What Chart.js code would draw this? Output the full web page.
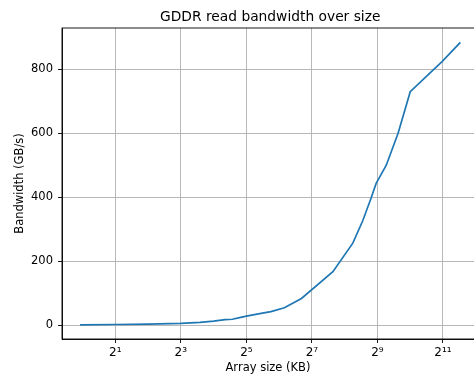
<!DOCTYPE html>
<html>
<head>
<meta charset="utf-8">
<script src="https://cdn.jsdelivr.net/npm/chart.js@4/dist/chart.umd.min.js"></script>
<style>
  html, body { margin: 0; padding: 0; background: #fff; }
  canvas { display: block; }
</style>
</head>
<body>
<canvas id="chart" width="474" height="376"></canvas>
<script>
const sizesKB = [0.95, 2, 4, 8, 12, 16, 20.4, 23.8, 28.4, 32, 45, 53.8, 71.5, 84.4, 102.6, 199.5, 304, 375, 446, 498, 617, 792, 1024, 2006, 2957];
const bandwidth = [0.5, 1.5, 3, 5, 8, 12, 17, 18, 24, 28, 37, 42, 54, 67, 83, 167, 256, 326, 396, 443, 500, 600, 730, 824, 884];

const xTickExps = [1, 3, 5, 7, 9, 11];
const yTicks = [0, 200, 400, 600, 800];
const sup = {'0':'⁰','1':'¹','2':'²','3':'³','4':'⁴','5':'⁵','6':'⁶','7':'⁷','8':'⁸','9':'⁹'};

const titleText = 'GDDR read bandwidth over size';
const FONT = '"DejaVu Sans", sans-serif';

const points = sizesKB.map((kb, i) => ({ x: Math.log2(kb), y: bandwidth[i] }));

// draws the box around the axes and the title centred over the data range
const framePlugin = {
  id: 'frame',
  afterDraw(chart) {
    const { ctx, chartArea: a, scales } = chart;
    ctx.save();
    ctx.strokeStyle = '#000';
    ctx.lineWidth = 0.9;
    ctx.strokeRect(a.left, a.top, a.right - a.left + 1, a.bottom - a.top);
    const lo = Math.log2(sizesKB[0]), hi = Math.log2(sizesKB[sizesKB.length - 1]);
    const cx = scales.x.getPixelForValue((lo + hi) / 2);
    ctx.fillStyle = '#000';
    ctx.font = '13.8px ' + FONT;
    ctx.textAlign = 'center';
    ctx.textBaseline = 'alphabetic';
    ctx.fillText(titleText, cx, 21);
    ctx.restore();
  }
};

Chart.defaults.font.family = FONT;
Chart.defaults.color = '#000';

new Chart(document.getElementById('chart'), {
  type: 'line',
  data: {
    datasets: [{
      data: points,
      borderColor: '#1f77b4',
      borderWidth: 1.7,
      pointRadius: 0,
      fill: false,
      tension: 0
    }]
  },
  options: {
    responsive: false,
    animation: false,
    devicePixelRatio: 1,
    layout: { padding: { top: 28, right: 0, left: 0, bottom: 0 } },
    plugins: { legend: { display: false }, tooltip: { enabled: false }, title: { display: false } },
    scales: {
      x: {
        type: 'linear',
        min: -0.626,
        max: 11.946,
        afterBuildTicks: s => { s.ticks = xTickExps.map(v => ({ value: v })); },
        afterFit: s => { s.height = 37; },
        ticks: {
          font: { size: 12 },
          padding: 3,
          maxRotation: 0,
          autoSkip: false,
          callback: v => '2' + String(v).split('').map(c => sup[c]).join('')
        },
        grid: { color: '#b0b0b0', lineWidth: 0.9, tickLength: 4, tickColor: '#000', tickWidth: 0.9 },
        border: { display: true, color: '#000', width: 0.9 },
        title: { display: true, text: 'Array size (KB)', font: { size: 11.5 }, padding: { top: 0, bottom: 1.2 } }
      },
      y: {
        type: 'linear',
        min: -43.8,
        max: 929.2,
        afterBuildTicks: s => { s.ticks = yTicks.map(v => ({ value: v })); },
        afterFit: s => { s.width = 62; },
        ticks: { font: { size: 11.5 }, padding: 5 },
        grid: { color: '#b0b0b0', lineWidth: 0.9, tickLength: 4, tickColor: '#000', tickWidth: 0.9 },
        border: { display: true, color: '#000', width: 0.9 },
        title: { display: true, text: 'Bandwidth (GB/s)', font: { size: 11.5 }, padding: { top: 13.5, bottom: 0 } }
      }
    }
  },
  plugins: [framePlugin]
});
</script>
</body>
</html>
